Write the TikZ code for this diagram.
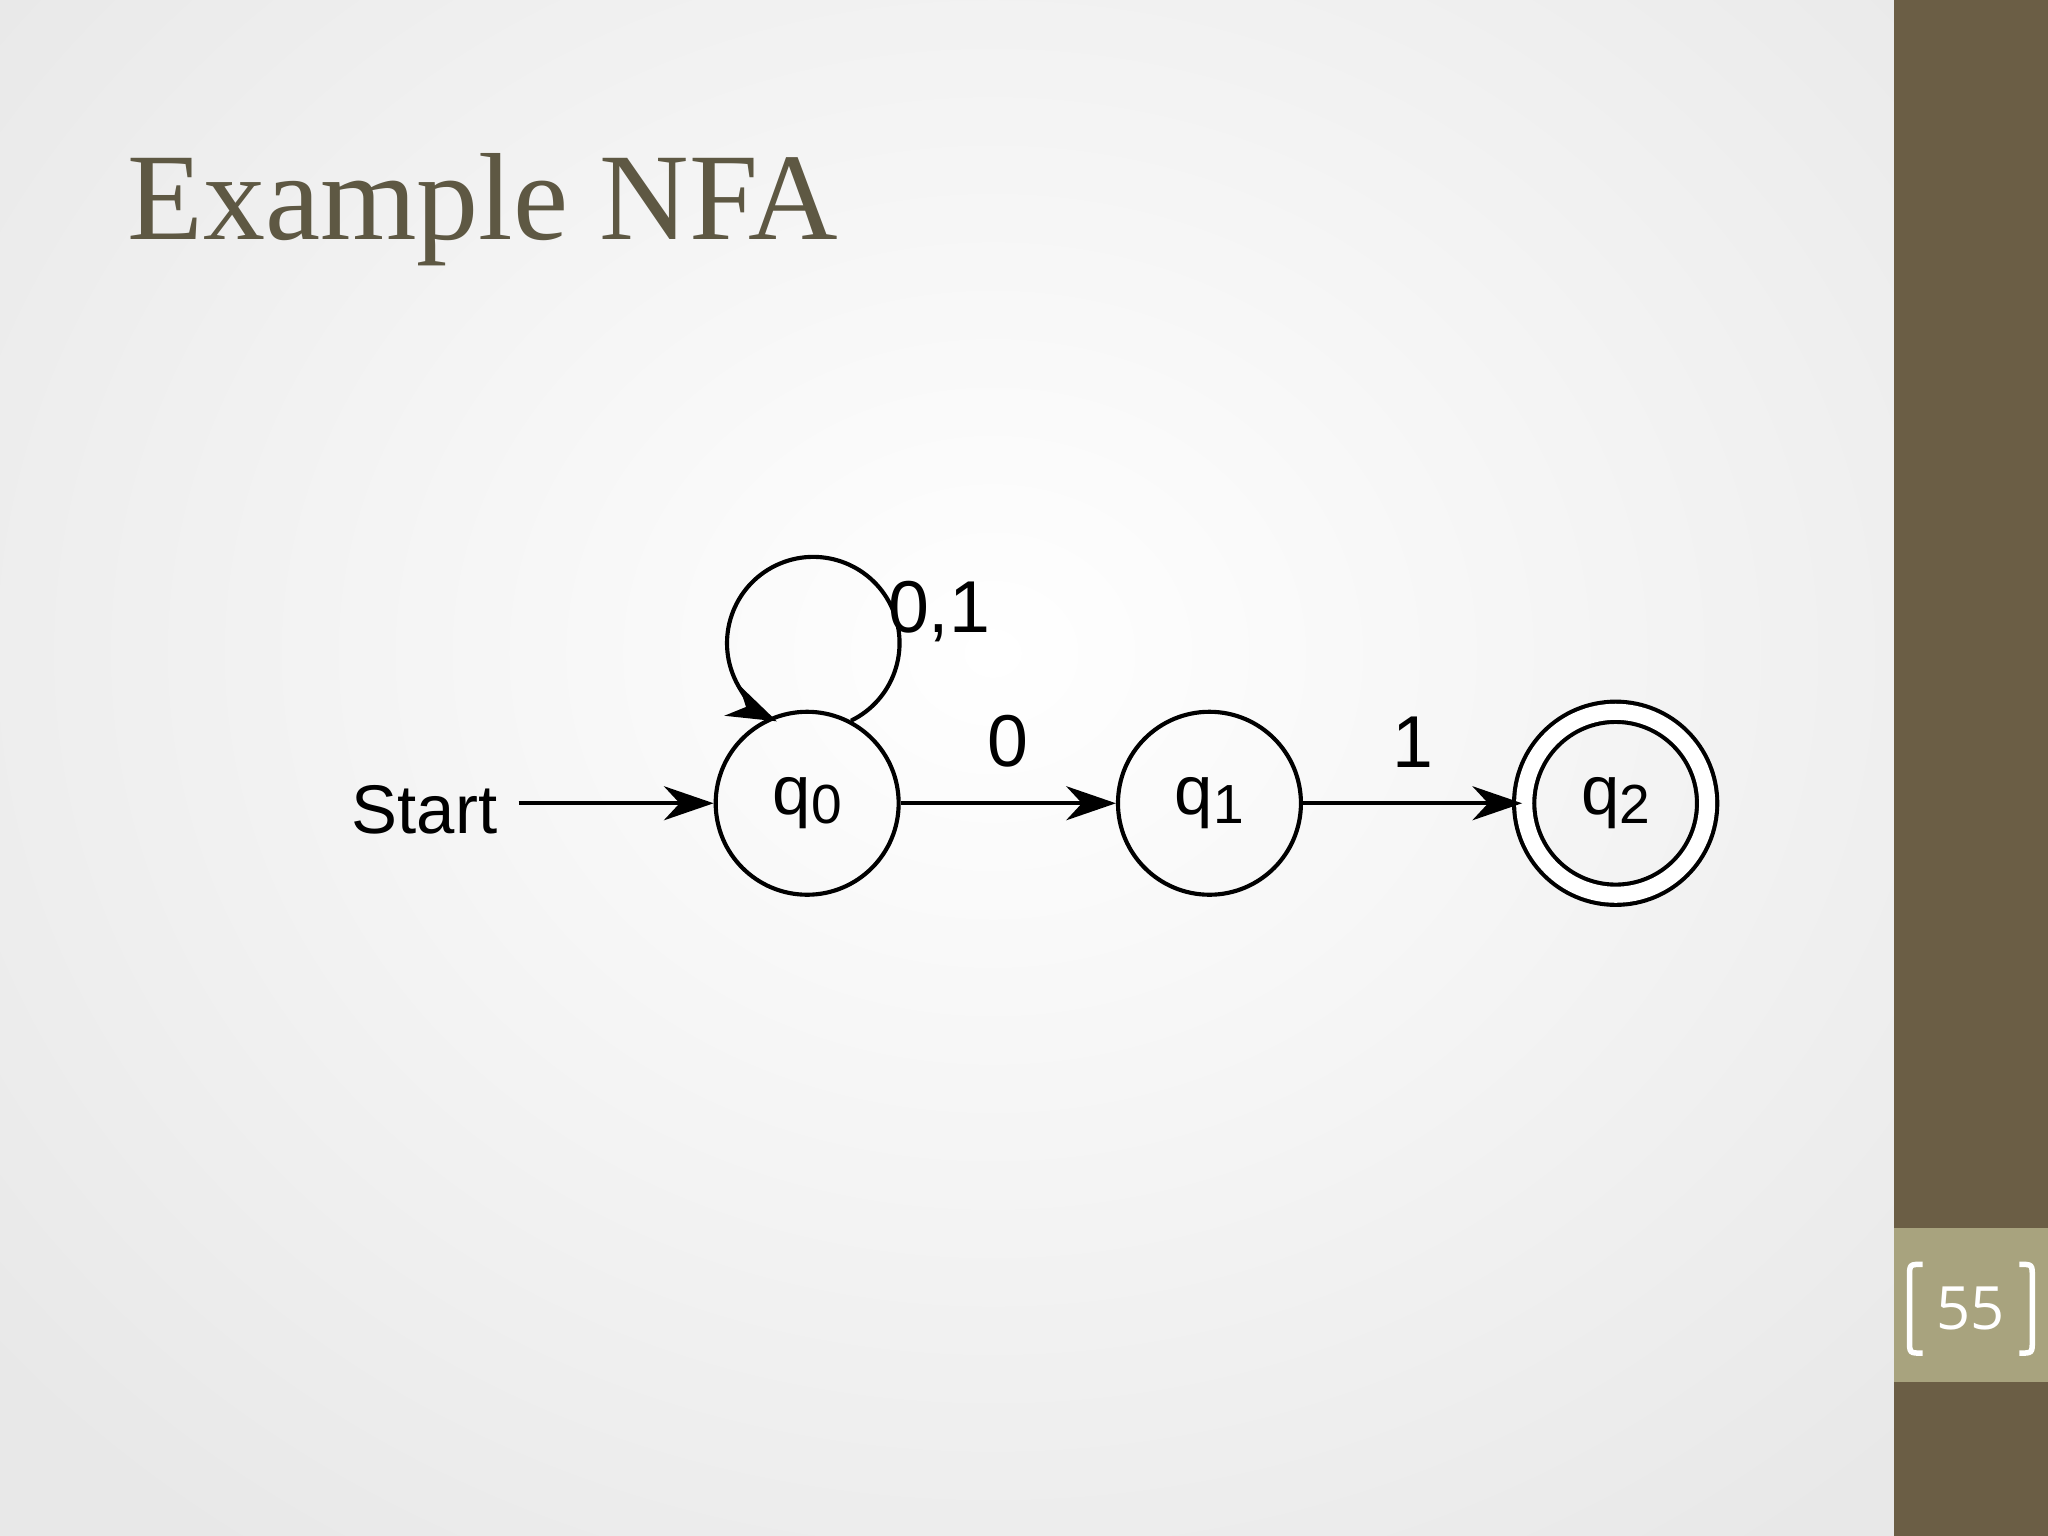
\documentclass[tikz,border=0pt]{standalone}
\usepackage{fontspec}
\setmainfont{Liberation Sans}
\newfontfamily\titlefont{Liberation Serif}
\newfontfamily\numfont{Open Sans}
\usetikzlibrary{arrows.meta}
\definecolor{olive}{HTML}{6B5E45}
\definecolor{lightolive}{HTML}{A8A37E}
\definecolor{titlecol}{HTML}{5E5843}
\newcommand{\qsub}[1]{q\raisebox{-0.25ex}{\fontsize{12}{12}\selectfont #1}}
\tikzset{
  st/.style={circle,draw,line width=0.9pt,minimum size=1.4cm,inner sep=0pt,font=\fontsize{15}{15}\selectfont},
  arr/.style={line width=0.9pt,-{Stealth[length=0.38cm,width=0.26cm,inset=0.12cm]}},
  lbl/.style={font=\fontsize{16}{16}\selectfont}
}
\begin{document}
\begin{tikzpicture}[x=0.01cm,y=-0.01cm]
\useasboundingbox (0,0) rectangle (1568,1176);
\fill[gray!18] (0,0) rectangle (1450,1176);
\shade[inner color=white,outer color=gray!18] (760,500) ellipse (1000 and 850);
\fill[olive] (1450,0) rectangle (1568,1176);
\fill[lightolive] (1450,940) rectangle (1568,1058);
\draw[white,line width=1.2pt] (1472,968) .. controls (1462,968) .. (1462,978) -- (1462,1026) .. controls (1462,1036) .. (1472,1036);
\draw[white,line width=1.2pt] (1546,968) .. controls (1556,968) .. (1556,978) -- (1556,1026) .. controls (1556,1036) .. (1546,1036);
\node[white,font=\numfont\fontsize{13}{13}\selectfont] (pn) at (1509,1002) {55};
\node[anchor=base west,text=titlecol,font=\titlefont\fontsize{27}{27}\selectfont,inner sep=0pt] (title) at (97,183) {Example NFA};
\node[st] (q0) at (618,615) {\qsub{0}};
\node[st] (q1) at (926,615) {\qsub{1}};
\node[st,double,double distance=3.5pt] (q2) at (1237,615) {\qsub{2}};
\node[lbl,font=\fontsize{15}{15}\selectfont] (start) at (325,620) {Start};
\coordinate (s0) at (397,615);
\draw[arr] (s0) -- (q0.west);
\draw[arr] (q0) -- node[lbl,above=4pt] {0} (q1);
\draw[arr] (q1) -- node[lbl,above=4pt] {1} (q2);
\draw[arr] (q0.62) arc[start angle=-64,end angle=245,radius=0.66cm];
\node[lbl] (l01) at (719,468) {0,1};
\end{tikzpicture}
\end{document}
